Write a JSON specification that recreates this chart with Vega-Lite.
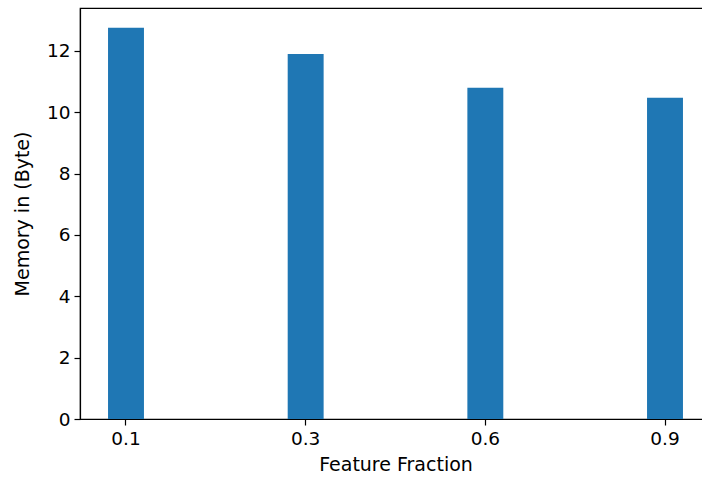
{
  "$schema": "https://vega.github.io/schema/vega-lite/v6.json",
  "autosize": {"type": "none"},
  "padding": {"left": 80, "top": 8, "right": 0, "bottom": 61},
  "width": 631,
  "height": 411,
  "background": "white",
  "config": {
    "view": {"stroke": "black", "strokeWidth": 1.2},
    "font": "DejaVu Sans",
    "axis": {
      "grid": false,
      "domainColor": "black",
      "domainWidth": 1.2,
      "tickColor": "black",
      "tickSize": 6,
      "tickWidth": 1.2,
      "labelFont": "DejaVu Sans",
      "labelFontSize": 18.5,
      "labelColor": "black",
      "titleFont": "DejaVu Sans",
      "titleFontSize": 19,
      "titleFontWeight": "normal",
      "titleColor": "black",
      "labelPadding": 4
    }
  },
  "data": {
    "values": [
      {"fraction": "0.1", "memory": 12.76},
      {"fraction": "0.3", "memory": 11.9},
      {"fraction": "0.6", "memory": 10.8},
      {"fraction": "0.9", "memory": 10.47}
    ]
  },
  "mark": {"type": "bar", "color": "#1f77b4"},
  "encoding": {
    "x": {
      "field": "fraction",
      "type": "ordinal",
      "sort": null,
      "scale": {"paddingInner": 0.8, "paddingOuter": 0.156},
      "axis": {"title": "Feature Fraction", "labelAngle": 0, "titlePadding": 8}
    },
    "y": {
      "field": "memory",
      "type": "quantitative",
      "scale": {"domain": [0, 13.4], "nice": false},
      "axis": {"title": "Memory in (Byte)", "values": [0, 2, 4, 6, 8, 10, 12], "titlePadding": 14}
    }
  }
}
